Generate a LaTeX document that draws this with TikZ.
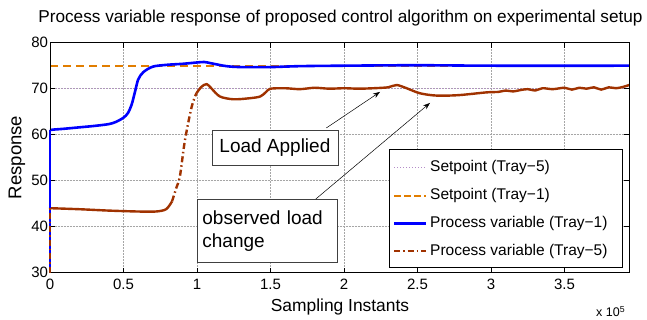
\documentclass[tikz,border=0pt]{standalone}
\usepackage{fontspec}
\setmainfont{Liberation Sans}
\usetikzlibrary{arrows.meta}
\definecolor{pvblue}{RGB}{0,0,255}
\definecolor{pvbrown}{RGB}{160,50,0}
\definecolor{sporange}{RGB}{225,125,0}
\definecolor{sppurple}{RGB}{180,140,200}
\tikzset{
  gridline/.style={gray!70,densely dotted,line width=0.5pt},
  ticklab/.style={font=\fontsize{15}{17}\selectfont,inner sep=1pt},
  annot/.style={draw=black!75,fill=white,line width=0.8pt,font=\fontsize{19}{23}\selectfont,inner sep=4pt},
  legtext/.style={font=\fontsize{15.5}{18}\selectfont,anchor=west,inner sep=0pt},
  pointer/.style={-{Stealth[length=7pt,width=5pt]},line width=0.5pt},
  bluecurve/.style={pvblue,line width=2.6pt,line join=round},
  browncurve/.style={pvbrown,line width=2.4pt,line join=round},
  spfive/.style={sppurple,line width=1.3pt,dash pattern=on 1.2pt off 1.8pt},
  spone/.style={sporange,line width=2pt,dash pattern=on 8pt off 5pt},
  dashdot/.style={dash pattern=on 6pt off 3pt on 1.5pt off 3pt},
}
\begin{document}
\begin{tikzpicture}[x=1pt,y=1pt]
\useasboundingbox (0,0) rectangle (647,320);
\begin{scope}[shift={(50pt,-90.7pt)},x=147pt,y=4.6pt]
  % grid
  \foreach \gx in {0.5,1,...,3.5} \draw[gridline] (\gx,30) -- (\gx,80);
  \foreach \gy in {40,50,...,70} \draw[gridline] (0,\gy) -- (3.94,\gy);
  % setpoints
  \draw[spfive] (0,70) -- (3.94,70);
  \draw[spone] (0,75) -- (3.94,75);
  % brown curve
  \draw[browncurve] plot[smooth,tension=0.5] coordinates {(0,44) (0.02,44) (0.2,43.8) (0.4,43.5) (0.6,43.3) (0.72,43.3) (0.79,43.8) (0.83,45.5)};
  \draw[browncurve,dashdot] plot[smooth,tension=0.5] coordinates {(0.83,45.5) (0.86,48.5) (0.884,51) (0.918,58.8) (0.964,66.1) (0.996,69)};
  \draw[browncurve] plot[smooth,tension=0.5] coordinates {(0.996,69) (1.03,70.4) (1.066,71) (1.1,70) (1.156,68.3) (1.247,67.7) (1.35,67.9) (1.43,68.3) (1.47,69.3) (1.5,70) (1.6,70.1) (1.7,69.9) (1.8,70.2) (1.9,70) (2.0,70.1) (2.1,70) (2.2,70.1) (2.3,70.3) (2.358,70.8) (2.426,70.1) (2.517,69) (2.63,68.5) (2.78,68.6) (2.97,69.2) (3.05,69.3) (3.1,69.6) (3.15,69.4) (3.2,69.7) (3.25,69.9) (3.3,69.6) (3.35,70.1) (3.42,69.9) (3.5,70.2) (3.55,69.8) (3.6,70.2) (3.65,70) (3.7,70.3) (3.75,69.8) (3.8,70.3) (3.85,70.1) (3.9,70.4) (3.94,70.8)};
  % blue curve
  \draw[bluecurve] plot[smooth,tension=0.5] coordinates {(0,61) (0.02,61.1) (0.1,61.3) (0.2,61.6) (0.3,61.9) (0.4,62.3) (0.45,62.8) (0.5,63.7) (0.53,64.7) (0.555,66.5) (0.578,69.3) (0.6,72) (0.635,73.6) (0.7,74.8) (0.8,75.2) (0.9,75.4) (1.0,75.7) (1.05,75.8) (1.1,75.5) (1.2,74.9) (1.3,74.7) (1.5,74.7) (1.7,74.9) (2.0,75) (2.5,75.1) (3.0,75) (3.94,75)};
  % axes box and ticks
  \draw[black,line width=0.8pt] (0,30) rectangle (3.94,80);
  \foreach \gx in {0,0.5,1,...,3.5} {
    \draw[line width=0.6pt] (\gx,30) -- ++(0,5pt);
    \draw[line width=0.6pt] (\gx,80) -- ++(0,-5pt);
  }
  \foreach \gy in {30,40,...,80} {
    \draw[line width=0.6pt] (0,\gy) -- ++(5pt,0);
    \draw[line width=0.6pt] (3.94,\gy) -- ++(-5pt,0);
  }
  % initial vertical rises on the axis
  \draw[bluecurve] (0,30) -- (0,61);
  \draw[browncurve,dashdot] (0,30) -- (0,44);
  \foreach \gx/\lab in {0/0,0.5/0.5,1/1,1.5/1.5,2/2,2.5/2.5,3/3,3.5/3.5}
    \node[ticklab,anchor=north] (xt\lab) at (\gx,28.8) {\lab};
  \foreach \gy in {30,40,...,80}
    \node[ticklab,anchor=east] (yt\gy) at (-0.005,\gy) {\gy};
  % annotation targets
  \coordinate (tipA) at (2.245,69.3);
  \coordinate (tipB) at (2.585,66.9);
\end{scope}
% annotations
\node[annot,anchor=north west,minimum width=126pt,minimum height=35pt,align=left] (loadapp) at (211.5,190) {Load Applied};
\node[annot,anchor=north west,minimum width=140pt,minimum height=63pt,align=left,text width=130pt,inner sep=4pt] (obsload) at (197,121) {observed load\\change};
\draw[pointer] (loadapp.north east) ++(-12pt,2pt) coordinate (tailA) -- (tipA);
\draw[pointer] (obsload.north east) ++(-22pt,0pt) coordinate (tailB) -- (tipB);
% legend
\node[draw=black,line width=0.8pt,fill=white,minimum width=233pt,minimum height=118pt,anchor=north west,inner sep=0pt] (legend) at (389,171) {};
\draw[spfive] (394,152.7) -- (426,152.7);
\node[legtext] (lg1) at (430,152.7) {Setpoint (Tray−5)};
\draw[sporange,line width=2pt,dash pattern=on 7pt off 3pt] (394,124.3) -- (426,124.3);
\node[legtext] (lg2) at (430,124.3) {Setpoint (Tray−1)};
\draw[pvblue,line width=2.6pt] (394,96.7) -- (426,96.7);
\node[legtext] (lg3) at (430,96.7) {Process variable (Tray−1)};
\draw[pvbrown,line width=1.8pt,dashdot] (394,69) -- (426,69);
\node[legtext] (lg4) at (430,69) {Process variable (Tray−5)};
% labels
\node[font=\fontsize{17.2}{20}\selectfont] (title) at (340.5,302) {Process variable response of proposed control algorithm on experimental setup};
\node[font=\fontsize{18.5}{21}\selectfont,rotate=90] (ylab) at (17,162.5) {Response};
\node[font=\fontsize{17.4}{20}\selectfont,inner sep=0pt] (xlab) at (340,13) {Sampling Instants};
\node[font=\fontsize{12.5}{15}\selectfont,anchor=base west,inner sep=0pt] (xmult) at (596,3.5) {x 10\textsuperscript{5}};
\end{tikzpicture}
\end{document}
